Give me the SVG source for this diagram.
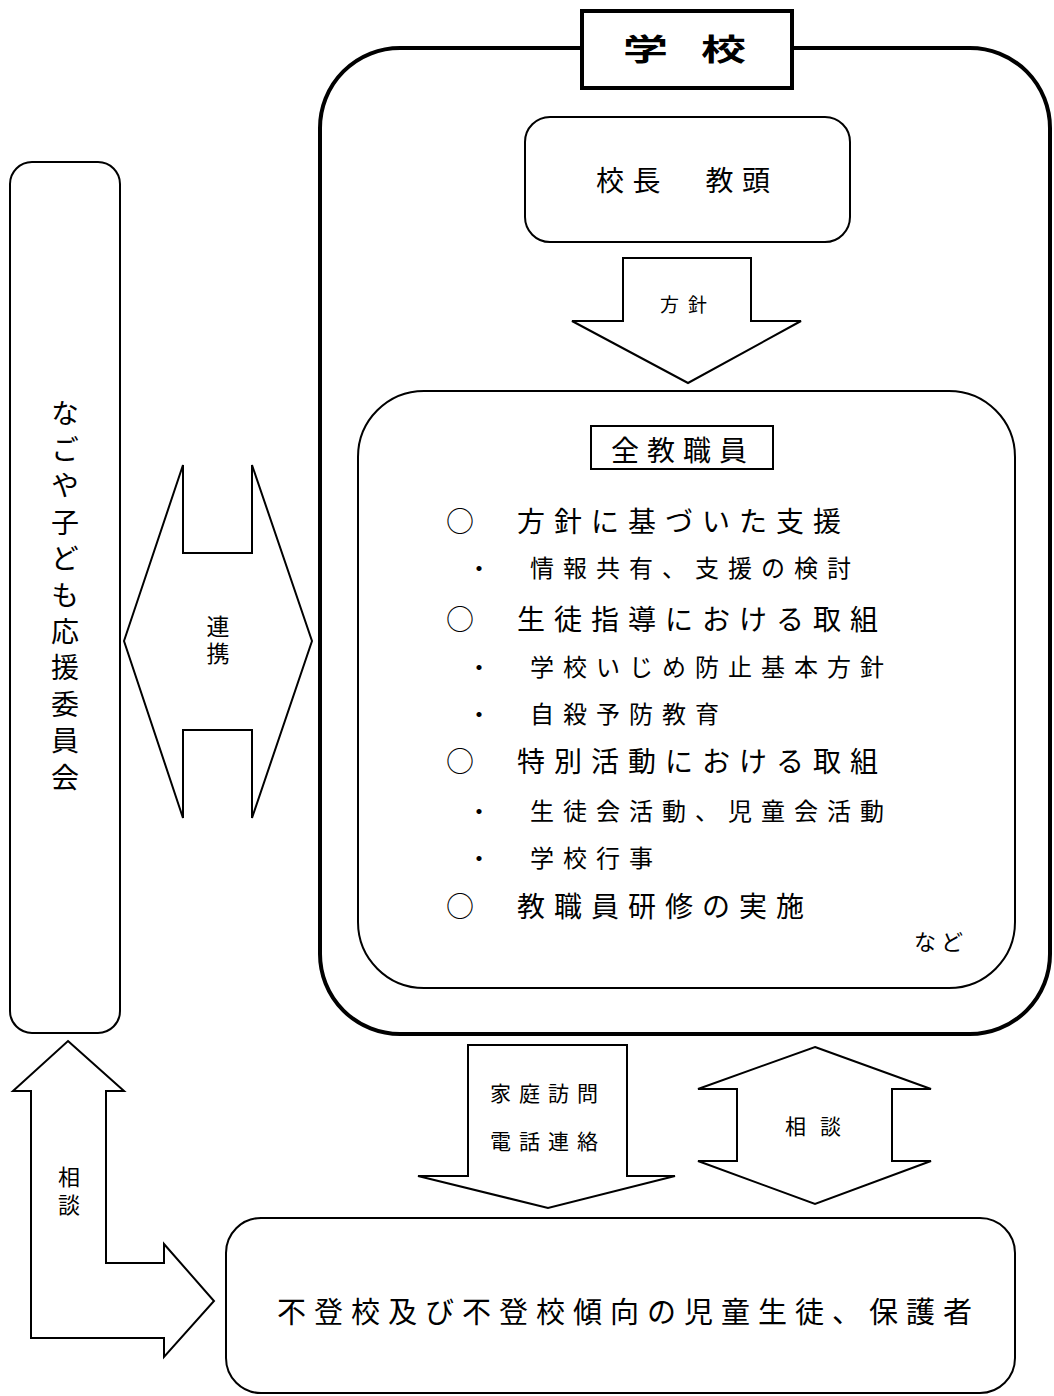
<svg xmlns="http://www.w3.org/2000/svg" width="1054" height="1396" viewBox="0 0 1054 1396">
<style>
text{font-family:"Noto Sans CJK JP","Noto Sans CJK SC",sans-serif;fill:#000}
.box{fill:#fff;stroke:#000;stroke-width:2}
.thick{fill:#fff;stroke:#000;stroke-width:4}
.arrow{fill:#fff;stroke:#000;stroke-width:2;stroke-linejoin:miter}
.big{font-size:28px;letter-spacing:9px}
.sub{font-size:24px;letter-spacing:9px}
.vert{writing-mode:vertical-rl}
</style>
<rect width="1054" height="1396" fill="#fff"/>
<g id="school">
<rect class="thick" x="320" y="48" width="730" height="986" rx="80" ry="80"/>
</g>
<g id="school-title">
<rect class="thick" x="582" y="11" width="210" height="77"/>
<text transform="translate(623,60) scale(1.5,1)" font-size="30" font-weight="bold" letter-spacing="22">学校</text>
</g>
<g id="principal">
<rect class="box" x="525" y="117" width="325" height="125" rx="25" ry="25"/>
<text x="596" y="191" font-size="28" letter-spacing="8.5">校長　教頭</text>
</g>
<g id="staff">
<rect class="box" x="358" y="391" width="657" height="597" rx="66" ry="66"/>
<rect class="box" x="591" y="426" width="182" height="43"/>
<text x="611" y="461" font-size="28" letter-spacing="8">全教職員</text>
<text class="big" y="532"><tspan x="446">○</tspan><tspan x="517">方針に基づいた支援</tspan></text>
<text class="sub" y="577"><tspan x="467">・</tspan><tspan x="530">情報共有、支援の検討</tspan></text>
<text class="big" y="630"><tspan x="446">○</tspan><tspan x="517">生徒指導における取組</tspan></text>
<text class="sub" y="676"><tspan x="467">・</tspan><tspan x="530">学校いじめ防止基本方針</tspan></text>
<text class="sub" y="723"><tspan x="467">・</tspan><tspan x="530">自殺予防教育</tspan></text>
<text class="big" y="772"><tspan x="446">○</tspan><tspan x="517">特別活動における取組</tspan></text>
<text class="sub" y="820"><tspan x="467">・</tspan><tspan x="530">生徒会活動、児童会活動</tspan></text>
<text class="sub" y="867"><tspan x="467">・</tspan><tspan x="530">学校行事</tspan></text>
<text class="big" y="917"><tspan x="446">○</tspan><tspan x="517">教職員研修の実施</tspan></text>
<text x="914" y="950" font-size="22" letter-spacing="5">など</text>
</g>
<g id="committee">
<rect class="box" x="10" y="162" width="110" height="871" rx="22" ry="22"/>
<text class="vert" x="65" y="399" font-size="28" letter-spacing="8.4">なごや子ども応援委員会</text>
</g>
<g id="students">
<rect class="box" x="226" y="1218" width="789" height="175" rx="35" ry="35"/>
<text x="277" y="1323" font-size="29" letter-spacing="8">不登校及び不登校傾向の児童生徒、保護者</text>
</g>
<g id="connectors">
<g id="arrow-policy">
<polygon class="arrow" points="623,258 751,258 751,321 801,321 688,383 572,321 623,321"/>
<text x="660" y="312" font-size="19" letter-spacing="9">方針</text>
</g>
<g id="arrow-renkei">
<polygon class="arrow" points="124,641 183,465 183,553 252,553 252,465 312,641 252,818 252,730 183,730 183,818"/>
<text class="vert" x="218" y="615" font-size="23" letter-spacing="4">連携</text>
</g>
<g id="arrow-visit">
<polygon class="arrow" points="468,1045 627,1045 627,1176 675,1176 548,1208 418,1176 468,1176"/>
<text x="490" y="1101" font-size="21" letter-spacing="8">家庭訪問</text>
<text x="490" y="1149" font-size="21" letter-spacing="8">電話連絡</text>
</g>
<g id="arrow-consult-right">
<polygon class="arrow" points="815,1047 931,1089 892,1089 892,1161 931,1161 815,1204 698,1161 737,1161 737,1089 698,1089"/>
<text x="785" y="1134" font-size="21" letter-spacing="14">相談</text>
</g>
<g id="arrow-consult-left">
<polygon class="arrow" points="68,1041 124,1091 106,1091 106,1263 164,1263 164,1244 214,1301 164,1357 164,1338 31,1338 31,1091 13,1091"/>
<text class="vert" x="69" y="1166" font-size="22" letter-spacing="6">相談</text>
</g>
</g>
</svg>
